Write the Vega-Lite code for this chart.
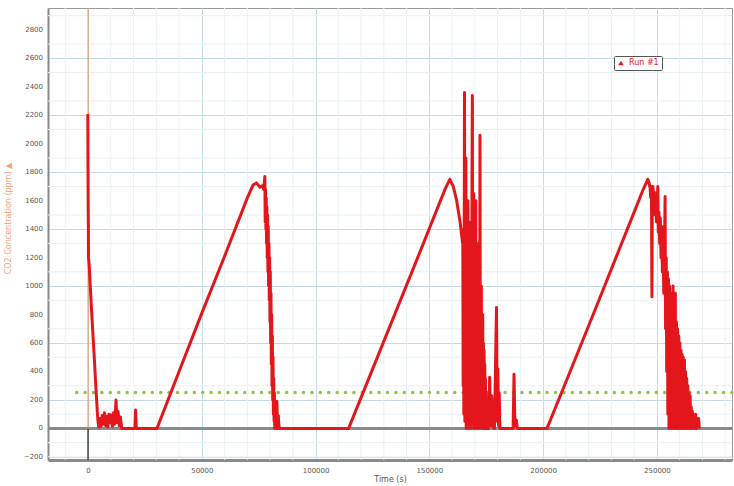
{
  "$schema": "https://vega.github.io/schema/vega-lite/v6.json",
  "width": 684,
  "height": 452,
  "autosize": {"type": "none"},
  "padding": {"left": 48, "top": 8, "right": 2, "bottom": 26},
  "background": "white",
  "config": {
    "view": {"stroke": "#9a9a9a", "strokeWidth": 1},
    "font": "DejaVu Sans"
  },
  "layer": [
    {
      "data": {"values": [{"co2": -200}, {"co2": -100}, {"co2": 100}, {"co2": 300}, {"co2": 500}, {"co2": 700}, {"co2": 900}, {"co2": 1100}, {"co2": 1300}, {"co2": 1500}, {"co2": 1700}, {"co2": 1900}, {"co2": 2100}, {"co2": 2300}, {"co2": 2500}, {"co2": 2700}, {"co2": 2900}]},
      "mark": {"type": "rule", "color": "#e9f1f3", "strokeWidth": 1},
      "encoding": {
        "y": {"field": "co2", "type": "quantitative", "scale": {"domain": [-222, 2954], "nice": false, "zero": false},
          "axis": {"title": "CO2 Concentration (ppm) ▲", "titleColor": "#f3a070", "titleFontSize": 8, "titleFontWeight": "normal", "titleX": -36, "titleY": 210, "titleAlign": "center",
            "values": [-200, 0, 200, 400, 600, 800, 1000, 1200, 1400, 1600, 1800, 2000, 2200, 2400, 2600, 2800], "labels": false,
            "ticks": false, "domainColor": "#888", "domainWidth": 2,
            "grid": true, "gridColor": "#c3dce3", "gridWidth": 1}}
      }
    },
    {
      "data": {"values": [{"t": -10000}, {"t": 10000}, {"t": 20000}, {"t": 30000}, {"t": 40000}, {"t": 60000}, {"t": 70000}, {"t": 80000}, {"t": 90000}, {"t": 110000}, {"t": 120000}, {"t": 130000}, {"t": 140000}, {"t": 160000}, {"t": 170000}, {"t": 180000}, {"t": 190000}, {"t": 210000}, {"t": 220000}, {"t": 230000}, {"t": 240000}, {"t": 260000}, {"t": 270000}, {"t": 280000}]},
      "mark": {"type": "rule", "color": "#e9f1f3", "strokeWidth": 1},
      "encoding": {
        "x": {"field": "t", "type": "quantitative", "scale": {"domain": [-17600, 283000], "nice": false, "zero": false},
          "axis": {"title": "Time (s)", "titleFontSize": 8, "titleFontWeight": "normal", "titleColor": "#555", "titlePadding": 2,
            "values": [0, 50000, 100000, 150000, 200000, 250000], "format": "d",
            "labelFontSize": 7, "labelColor": "#555", "labelPadding": 6, "ticks": false, "domainColor": "#8a8a8a", "domainWidth": 3,
            "grid": true, "gridColor": "#c3dce3", "gridWidth": 1}}
      }
    },
    {
      "data": {"values": [{"co2": -200}, {"co2": 0}, {"co2": 200}, {"co2": 400}, {"co2": 600}, {"co2": 800}, {"co2": 1000}, {"co2": 1200}, {"co2": 1400}, {"co2": 1600}, {"co2": 1800}, {"co2": 2000}, {"co2": 2200}, {"co2": 2400}, {"co2": 2600}, {"co2": 2800}]},
      "mark": {"type": "text", "align": "right", "baseline": "middle", "dx": -5, "fontSize": 7, "color": "#555"},
      "encoding": {
        "x": {"datum": -17600, "type": "quantitative"},
        "y": {"field": "co2", "type": "quantitative"},
        "text": {"field": "co2", "type": "quantitative", "format": "d"}
      }
    },
    {
      "data": {"values": [{"co2": 0}]},
      "mark": {"type": "rule", "color": "#8a8a8a", "strokeWidth": 3},
      "encoding": {"y": {"field": "co2", "type": "quantitative"}}
    },
    {
      "data": {"values": [{"t": 0, "co2": -222, "co2b": 0}]},
      "mark": {"type": "rule", "color": "#444", "strokeWidth": 1.5},
      "encoding": {"x": {"field": "t", "type": "quantitative"}, "y": {"field": "co2", "type": "quantitative"}, "y2": {"field": "co2b"}}
    },
    {
      "data": {"values": [{"t": 0, "co2": 0, "co2b": 2954}]},
      "mark": {"type": "rule", "color": "#f08a50", "strokeWidth": 1},
      "encoding": {"x": {"field": "t", "type": "quantitative"}, "y": {"field": "co2", "type": "quantitative"}, "y2": {"field": "co2b"}}
    },
    {
      "data": {"values": [{"t": -5000, "co2": 252}, {"t": 283000, "co2": 252}]},
      "mark": {"type": "line", "color": "#8dc63f", "strokeWidth": 3.5, "strokeDash": [0.1, 8.3], "strokeCap": "round"},
      "encoding": {"x": {"field": "t", "type": "quantitative"}, "y": {"field": "co2", "type": "quantitative"}}
    },
    {
      "data": {"values": [
        {"run": "Run #1", "t": -100, "co2": 2210},
        {"run": "Run #1", "t": 0, "co2": 1770},
        {"run": "Run #1", "t": 50, "co2": 1600},
        {"run": "Run #1", "t": 100, "co2": 1480},
        {"run": "Run #1", "t": 150, "co2": 1390},
        {"run": "Run #1", "t": 200, "co2": 1200},
        {"run": "Run #1", "t": 500, "co2": 1150},
        {"run": "Run #1", "t": 900, "co2": 1020},
        {"run": "Run #1", "t": 1300, "co2": 900},
        {"run": "Run #1", "t": 1800, "co2": 760},
        {"run": "Run #1", "t": 2300, "co2": 620},
        {"run": "Run #1", "t": 2800, "co2": 480},
        {"run": "Run #1", "t": 3300, "co2": 330},
        {"run": "Run #1", "t": 3800, "co2": 190},
        {"run": "Run #1", "t": 4300, "co2": 60},
        {"run": "Run #1", "t": 4700, "co2": 10},
        {"run": "Run #1", "t": 5200, "co2": 70},
        {"run": "Run #1", "t": 5700, "co2": 15},
        {"run": "Run #1", "t": 6200, "co2": 90},
        {"run": "Run #1", "t": 6700, "co2": 30},
        {"run": "Run #1", "t": 7200, "co2": 110},
        {"run": "Run #1", "t": 7700, "co2": 20},
        {"run": "Run #1", "t": 8200, "co2": 85},
        {"run": "Run #1", "t": 8700, "co2": 10},
        {"run": "Run #1", "t": 9200, "co2": 100},
        {"run": "Run #1", "t": 9700, "co2": 40},
        {"run": "Run #1", "t": 10200, "co2": 95},
        {"run": "Run #1", "t": 10700, "co2": 15},
        {"run": "Run #1", "t": 11200, "co2": 110},
        {"run": "Run #1", "t": 11700, "co2": 30},
        {"run": "Run #1", "t": 12300, "co2": 200},
        {"run": "Run #1", "t": 12700, "co2": 40},
        {"run": "Run #1", "t": 13200, "co2": 120},
        {"run": "Run #1", "t": 13700, "co2": 20},
        {"run": "Run #1", "t": 14200, "co2": 80},
        {"run": "Run #1", "t": 14800, "co2": 0},
        {"run": "Run #1", "t": 20600, "co2": 0},
        {"run": "Run #1", "t": 20900, "co2": 130},
        {"run": "Run #1", "t": 21200, "co2": 0},
        {"run": "Run #1", "t": 30300, "co2": 0},
        {"run": "Run #1", "t": 40000, "co2": 400},
        {"run": "Run #1", "t": 50000, "co2": 810},
        {"run": "Run #1", "t": 60000, "co2": 1210},
        {"run": "Run #1", "t": 70000, "co2": 1620},
        {"run": "Run #1", "t": 72500, "co2": 1710},
        {"run": "Run #1", "t": 74000, "co2": 1725},
        {"run": "Run #1", "t": 75500, "co2": 1695},
        {"run": "Run #1", "t": 76500, "co2": 1705},
        {"run": "Run #1", "t": 77200, "co2": 1680},
        {"run": "Run #1", "t": 77700, "co2": 1770},
        {"run": "Run #1", "t": 77850, "co2": 1450},
        {"run": "Run #1", "t": 78000, "co2": 1680},
        {"run": "Run #1", "t": 78150, "co2": 1400},
        {"run": "Run #1", "t": 78300, "co2": 1620},
        {"run": "Run #1", "t": 78450, "co2": 1300},
        {"run": "Run #1", "t": 78600, "co2": 1560},
        {"run": "Run #1", "t": 78750, "co2": 1200},
        {"run": "Run #1", "t": 78900, "co2": 1500},
        {"run": "Run #1", "t": 79050, "co2": 1100},
        {"run": "Run #1", "t": 79200, "co2": 1420},
        {"run": "Run #1", "t": 79350, "co2": 1000},
        {"run": "Run #1", "t": 79500, "co2": 1300},
        {"run": "Run #1", "t": 79650, "co2": 900},
        {"run": "Run #1", "t": 79800, "co2": 1200},
        {"run": "Run #1", "t": 79950, "co2": 750},
        {"run": "Run #1", "t": 80100, "co2": 1100},
        {"run": "Run #1", "t": 80250, "co2": 600},
        {"run": "Run #1", "t": 80400, "co2": 950},
        {"run": "Run #1", "t": 80550, "co2": 450},
        {"run": "Run #1", "t": 80700, "co2": 800},
        {"run": "Run #1", "t": 80850, "co2": 300},
        {"run": "Run #1", "t": 81000, "co2": 650},
        {"run": "Run #1", "t": 81150, "co2": 200},
        {"run": "Run #1", "t": 81300, "co2": 500},
        {"run": "Run #1", "t": 81450, "co2": 100},
        {"run": "Run #1", "t": 81600, "co2": 350},
        {"run": "Run #1", "t": 81750, "co2": 50},
        {"run": "Run #1", "t": 81900, "co2": 250},
        {"run": "Run #1", "t": 82050, "co2": 0},
        {"run": "Run #1", "t": 82200, "co2": 180},
        {"run": "Run #1", "t": 82400, "co2": 20},
        {"run": "Run #1", "t": 82600, "co2": 150},
        {"run": "Run #1", "t": 82800, "co2": 0},
        {"run": "Run #1", "t": 83000, "co2": 190},
        {"run": "Run #1", "t": 83300, "co2": 0},
        {"run": "Run #1", "t": 83600, "co2": 90},
        {"run": "Run #1", "t": 84000, "co2": 0},
        {"run": "Run #1", "t": 114500, "co2": 0},
        {"run": "Run #1", "t": 125000, "co2": 415},
        {"run": "Run #1", "t": 135000, "co2": 810},
        {"run": "Run #1", "t": 145000, "co2": 1205},
        {"run": "Run #1", "t": 153000, "co2": 1525},
        {"run": "Run #1", "t": 157000, "co2": 1685},
        {"run": "Run #1", "t": 159000, "co2": 1750},
        {"run": "Run #1", "t": 160500, "co2": 1700},
        {"run": "Run #1", "t": 162000, "co2": 1600},
        {"run": "Run #1", "t": 163500, "co2": 1450},
        {"run": "Run #1", "t": 164600, "co2": 1300},
        {"run": "Run #1", "t": 164700, "co2": 1350},
        {"run": "Run #1", "t": 164850, "co2": 300},
        {"run": "Run #1", "t": 165000, "co2": 1400},
        {"run": "Run #1", "t": 165150, "co2": 100},
        {"run": "Run #1", "t": 165300, "co2": 1250},
        {"run": "Run #1", "t": 165450, "co2": 2360},
        {"run": "Run #1", "t": 165600, "co2": 50},
        {"run": "Run #1", "t": 165750, "co2": 1450},
        {"run": "Run #1", "t": 165900, "co2": 200},
        {"run": "Run #1", "t": 166050, "co2": 1900},
        {"run": "Run #1", "t": 166200, "co2": 0},
        {"run": "Run #1", "t": 166350, "co2": 1500},
        {"run": "Run #1", "t": 166500, "co2": 150},
        {"run": "Run #1", "t": 166650, "co2": 1350},
        {"run": "Run #1", "t": 166800, "co2": 50},
        {"run": "Run #1", "t": 166950, "co2": 1600},
        {"run": "Run #1", "t": 167100, "co2": 250},
        {"run": "Run #1", "t": 167250, "co2": 1300},
        {"run": "Run #1", "t": 167400, "co2": 0},
        {"run": "Run #1", "t": 167550, "co2": 1450},
        {"run": "Run #1", "t": 167700, "co2": 100},
        {"run": "Run #1", "t": 167850, "co2": 1200},
        {"run": "Run #1", "t": 168000, "co2": 300},
        {"run": "Run #1", "t": 168150, "co2": 1350},
        {"run": "Run #1", "t": 168300, "co2": 0},
        {"run": "Run #1", "t": 168450, "co2": 1250},
        {"run": "Run #1", "t": 168600, "co2": 150},
        {"run": "Run #1", "t": 168750, "co2": 1800},
        {"run": "Run #1", "t": 168900, "co2": 2340},
        {"run": "Run #1", "t": 169050, "co2": 50},
        {"run": "Run #1", "t": 169200, "co2": 1300},
        {"run": "Run #1", "t": 169350, "co2": 200},
        {"run": "Run #1", "t": 169500, "co2": 1650},
        {"run": "Run #1", "t": 169650, "co2": 0},
        {"run": "Run #1", "t": 169800, "co2": 1150},
        {"run": "Run #1", "t": 169950, "co2": 100},
        {"run": "Run #1", "t": 170100, "co2": 1250},
        {"run": "Run #1", "t": 170250, "co2": 250},
        {"run": "Run #1", "t": 170400, "co2": 1600},
        {"run": "Run #1", "t": 170550, "co2": 0},
        {"run": "Run #1", "t": 170700, "co2": 1050},
        {"run": "Run #1", "t": 170850, "co2": 150},
        {"run": "Run #1", "t": 171000, "co2": 1100},
        {"run": "Run #1", "t": 171150, "co2": 50},
        {"run": "Run #1", "t": 171300, "co2": 950},
        {"run": "Run #1", "t": 171450, "co2": 300},
        {"run": "Run #1", "t": 171600, "co2": 1300},
        {"run": "Run #1", "t": 171750, "co2": 0},
        {"run": "Run #1", "t": 171900, "co2": 900},
        {"run": "Run #1", "t": 172050, "co2": 100},
        {"run": "Run #1", "t": 172250, "co2": 2060},
        {"run": "Run #1", "t": 172400, "co2": 50},
        {"run": "Run #1", "t": 172550, "co2": 850},
        {"run": "Run #1", "t": 172700, "co2": 200},
        {"run": "Run #1", "t": 172850, "co2": 1000},
        {"run": "Run #1", "t": 173000, "co2": 0},
        {"run": "Run #1", "t": 173150, "co2": 750},
        {"run": "Run #1", "t": 173300, "co2": 100},
        {"run": "Run #1", "t": 173450, "co2": 800},
        {"run": "Run #1", "t": 173600, "co2": 0},
        {"run": "Run #1", "t": 173750, "co2": 600},
        {"run": "Run #1", "t": 173900, "co2": 150},
        {"run": "Run #1", "t": 174050, "co2": 550},
        {"run": "Run #1", "t": 174200, "co2": 0},
        {"run": "Run #1", "t": 174350, "co2": 450},
        {"run": "Run #1", "t": 174500, "co2": 50},
        {"run": "Run #1", "t": 174650, "co2": 350},
        {"run": "Run #1", "t": 174800, "co2": 0},
        {"run": "Run #1", "t": 174950, "co2": 250},
        {"run": "Run #1", "t": 175100, "co2": 0},
        {"run": "Run #1", "t": 175250, "co2": 150},
        {"run": "Run #1", "t": 175400, "co2": 0},
        {"run": "Run #1", "t": 176000, "co2": 0},
        {"run": "Run #1", "t": 176500, "co2": 360},
        {"run": "Run #1", "t": 176900, "co2": 20},
        {"run": "Run #1", "t": 177400, "co2": 230},
        {"run": "Run #1", "t": 177900, "co2": 10},
        {"run": "Run #1", "t": 178600, "co2": 0},
        {"run": "Run #1", "t": 179500, "co2": 850},
        {"run": "Run #1", "t": 179800, "co2": 50},
        {"run": "Run #1", "t": 180100, "co2": 420},
        {"run": "Run #1", "t": 180400, "co2": 20},
        {"run": "Run #1", "t": 180700, "co2": 250},
        {"run": "Run #1", "t": 181000, "co2": 0},
        {"run": "Run #1", "t": 186800, "co2": 0},
        {"run": "Run #1", "t": 187200, "co2": 380},
        {"run": "Run #1", "t": 187600, "co2": 20},
        {"run": "Run #1", "t": 188200, "co2": 60},
        {"run": "Run #1", "t": 188700, "co2": 0},
        {"run": "Run #1", "t": 201700, "co2": 0},
        {"run": "Run #1", "t": 212000, "co2": 405},
        {"run": "Run #1", "t": 222000, "co2": 800},
        {"run": "Run #1", "t": 232000, "co2": 1200},
        {"run": "Run #1", "t": 240000, "co2": 1520},
        {"run": "Run #1", "t": 244000, "co2": 1680},
        {"run": "Run #1", "t": 246000, "co2": 1750},
        {"run": "Run #1", "t": 246500, "co2": 1730},
        {"run": "Run #1", "t": 247000, "co2": 1690},
        {"run": "Run #1", "t": 247300, "co2": 1620},
        {"run": "Run #1", "t": 247600, "co2": 1700},
        {"run": "Run #1", "t": 247800, "co2": 925},
        {"run": "Run #1", "t": 248000, "co2": 1640},
        {"run": "Run #1", "t": 248300, "co2": 1700},
        {"run": "Run #1", "t": 248600, "co2": 1560},
        {"run": "Run #1", "t": 248900, "co2": 1660},
        {"run": "Run #1", "t": 249200, "co2": 1500},
        {"run": "Run #1", "t": 249500, "co2": 1640},
        {"run": "Run #1", "t": 249800, "co2": 1450},
        {"run": "Run #1", "t": 250100, "co2": 1600},
        {"run": "Run #1", "t": 250400, "co2": 1700},
        {"run": "Run #1", "t": 250600, "co2": 1380},
        {"run": "Run #1", "t": 250900, "co2": 1520},
        {"run": "Run #1", "t": 251200, "co2": 1300},
        {"run": "Run #1", "t": 251500, "co2": 1480},
        {"run": "Run #1", "t": 251800, "co2": 1200},
        {"run": "Run #1", "t": 252100, "co2": 1420},
        {"run": "Run #1", "t": 252400, "co2": 1100},
        {"run": "Run #1", "t": 252700, "co2": 1350},
        {"run": "Run #1", "t": 253000, "co2": 950},
        {"run": "Run #1", "t": 253300, "co2": 1250},
        {"run": "Run #1", "t": 253600, "co2": 1630},
        {"run": "Run #1", "t": 253800, "co2": 700},
        {"run": "Run #1", "t": 254100, "co2": 1200},
        {"run": "Run #1", "t": 254300, "co2": 400},
        {"run": "Run #1", "t": 254600, "co2": 1100},
        {"run": "Run #1", "t": 254800, "co2": 100},
        {"run": "Run #1", "t": 255100, "co2": 1050},
        {"run": "Run #1", "t": 255300, "co2": 0},
        {"run": "Run #1", "t": 255600, "co2": 1000},
        {"run": "Run #1", "t": 255800, "co2": 150},
        {"run": "Run #1", "t": 256100, "co2": 950},
        {"run": "Run #1", "t": 256300, "co2": 0},
        {"run": "Run #1", "t": 256600, "co2": 900},
        {"run": "Run #1", "t": 256800, "co2": 100},
        {"run": "Run #1", "t": 257100, "co2": 1000},
        {"run": "Run #1", "t": 257300, "co2": 0},
        {"run": "Run #1", "t": 257600, "co2": 850},
        {"run": "Run #1", "t": 257800, "co2": 200},
        {"run": "Run #1", "t": 258100, "co2": 950},
        {"run": "Run #1", "t": 258300, "co2": 0},
        {"run": "Run #1", "t": 258600, "co2": 750},
        {"run": "Run #1", "t": 258800, "co2": 100},
        {"run": "Run #1", "t": 259100, "co2": 700},
        {"run": "Run #1", "t": 259300, "co2": 0},
        {"run": "Run #1", "t": 259600, "co2": 650},
        {"run": "Run #1", "t": 259800, "co2": 150},
        {"run": "Run #1", "t": 260100, "co2": 600},
        {"run": "Run #1", "t": 260300, "co2": 0},
        {"run": "Run #1", "t": 260600, "co2": 550},
        {"run": "Run #1", "t": 260800, "co2": 100},
        {"run": "Run #1", "t": 261100, "co2": 520},
        {"run": "Run #1", "t": 261300, "co2": 0},
        {"run": "Run #1", "t": 261600, "co2": 500},
        {"run": "Run #1", "t": 261800, "co2": 50},
        {"run": "Run #1", "t": 262100, "co2": 480},
        {"run": "Run #1", "t": 262300, "co2": 0},
        {"run": "Run #1", "t": 262600, "co2": 400},
        {"run": "Run #1", "t": 262800, "co2": 80},
        {"run": "Run #1", "t": 263100, "co2": 350},
        {"run": "Run #1", "t": 263300, "co2": 0},
        {"run": "Run #1", "t": 263600, "co2": 300},
        {"run": "Run #1", "t": 263800, "co2": 50},
        {"run": "Run #1", "t": 264100, "co2": 250},
        {"run": "Run #1", "t": 264300, "co2": 0},
        {"run": "Run #1", "t": 264600, "co2": 230},
        {"run": "Run #1", "t": 264800, "co2": 30},
        {"run": "Run #1", "t": 265100, "co2": 150},
        {"run": "Run #1", "t": 265300, "co2": 0},
        {"run": "Run #1", "t": 265600, "co2": 120},
        {"run": "Run #1", "t": 265900, "co2": 20},
        {"run": "Run #1", "t": 266300, "co2": 90},
        {"run": "Run #1", "t": 266600, "co2": 0},
        {"run": "Run #1", "t": 267000, "co2": 100},
        {"run": "Run #1", "t": 267400, "co2": 0},
        {"run": "Run #1", "t": 267800, "co2": 60},
        {"run": "Run #1", "t": 268300, "co2": 70},
        {"run": "Run #1", "t": 268600, "co2": 10},
        {"run": "Run #1", "t": 268900, "co2": 0}
      ]},
      "mark": {"type": "line", "strokeWidth": 3, "strokeJoin": "round"},
      "encoding": {
        "x": {"field": "t", "type": "quantitative"},
        "y": {"field": "co2", "type": "quantitative"},
        "order": {"field": "t", "type": "quantitative"},
        "color": {"field": "run", "type": "nominal", "scale": {"domain": ["Run #1"], "range": ["#e3171b"]},
          "legend": {"title": null, "orient": "none", "legendX": 566, "legendY": 48, "symbolType": "triangle-up", "symbolSize": 30, "symbolFillColor": "#e3171b", "symbolStrokeWidth": 0,
            "labelColor": "#e3171b", "labelFontSize": 8, "fillColor": "white", "strokeColor": "#555", "padding": 3, "cornerRadius": 1}}
      }
    }
  ]
}
